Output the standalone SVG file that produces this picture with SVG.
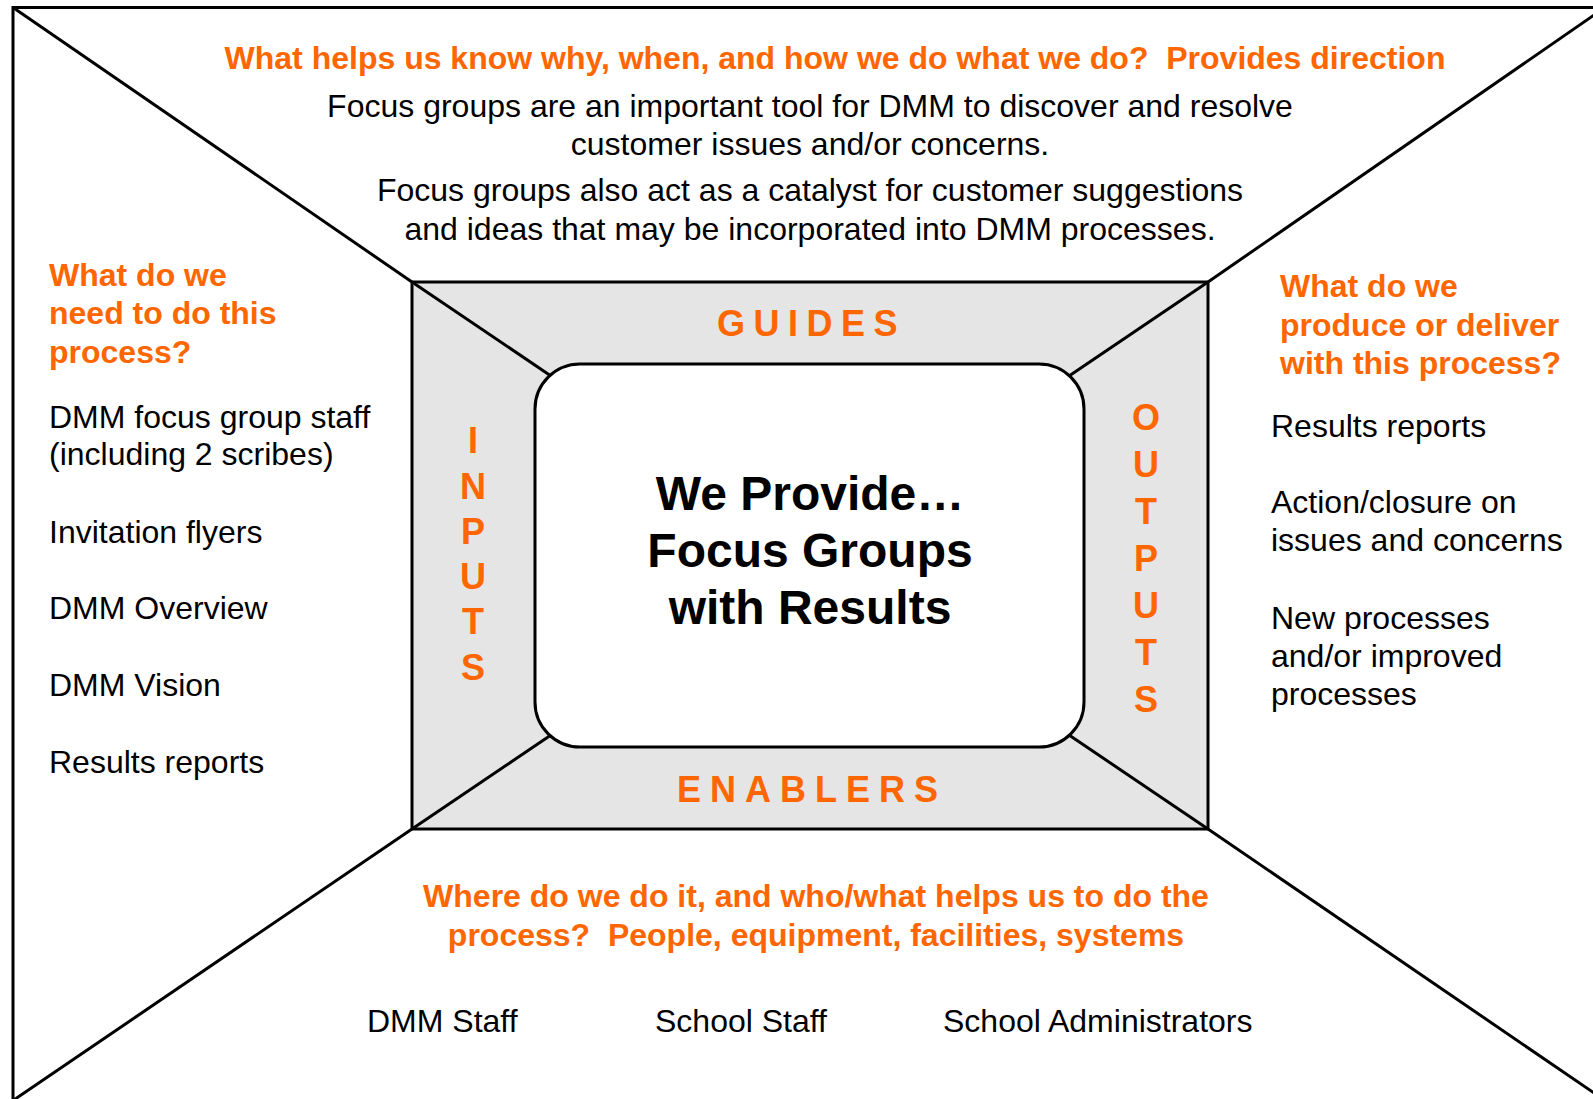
<svg xmlns="http://www.w3.org/2000/svg" width="1593" height="1099" viewBox="0 0 1593 1099">
<style>
.ln{stroke:#000;stroke-width:3;fill:none}
.t{font-family:"Liberation Sans",Arial,sans-serif;font-size:32px;fill:#000}
.o{font-family:"Liberation Sans",Arial,sans-serif;font-size:32px;font-weight:bold;fill:#FF6600}
.lab{font-family:"Liberation Sans",Arial,sans-serif;font-size:36px;font-weight:bold;fill:#FF6600}
.c{font-family:"Liberation Sans",Arial,sans-serif;font-size:48px;font-weight:bold;fill:#000}
.m{text-anchor:middle}
</style>
<rect width="1593" height="1099" fill="#fff"/>
<g id="frame">
<rect x="13" y="7.5" width="1592" height="1093" class="ln"/>
</g>
<g id="connectors">
<line x1="13" y1="7.5" x2="412" y2="282" class="ln"/>
<line x1="1605" y1="7.5" x2="1208" y2="282" class="ln"/>
<line x1="13" y1="1100.5" x2="412" y2="829" class="ln"/>
<line x1="1605" y1="1100.5" x2="1208" y2="829" class="ln"/>
</g>
<g id="core">
<rect x="412" y="282" width="796" height="547" fill="#E5E5E5" stroke="#000" stroke-width="3"/>
<g class="ln">
<line x1="412" y1="282" x2="551" y2="376"/>
<line x1="1208" y1="282" x2="1069" y2="376"/>
<line x1="412" y1="829" x2="551" y2="735"/>
<line x1="1208" y1="829" x2="1069" y2="735"/>
</g>
<rect x="535" y="364" width="549" height="383" rx="45" ry="45" fill="#fff" stroke="#000" stroke-width="3"/>
</g>
<g id="center">
<text class="c m" x="810" y="510">We Provide…</text>
<text class="c m" x="810" y="567">Focus Groups</text>
<text class="c m" x="810" y="624">with Results</text>
</g>
<g id="guides-label">
<text class="lab" x="717" y="336" letter-spacing="8.5">GUIDES</text>
</g>
<g id="enablers-label">
<text class="lab" x="677" y="802" letter-spacing="9">ENABLERS</text>
</g>
<g id="inputs-label">
<text class="lab m" x="473" y="453">I</text>
<text class="lab m" x="473" y="498.5">N</text>
<text class="lab m" x="473" y="544">P</text>
<text class="lab m" x="473" y="589">U</text>
<text class="lab m" x="473" y="634">T</text>
<text class="lab m" x="473" y="680">S</text>
</g>
<g id="outputs-label">
<text class="lab m" x="1146" y="430">O</text>
<text class="lab m" x="1146" y="477">U</text>
<text class="lab m" x="1146" y="524">T</text>
<text class="lab m" x="1146" y="571">P</text>
<text class="lab m" x="1146" y="618">U</text>
<text class="lab m" x="1146" y="665">T</text>
<text class="lab m" x="1146" y="712">S</text>
</g>
<g id="guides">
<text class="o m" x="835" y="68.5" xml:space="preserve">What helps us know why, when, and how we do what we do?  Provides direction</text>
<text class="t m" x="810" y="117">Focus groups are an important tool for DMM to discover and resolve</text>
<text class="t m" x="810" y="154.5">customer issues and/or concerns.</text>
<text class="t m" x="810" y="201">Focus groups also act as a catalyst for customer suggestions</text>
<text class="t m" x="810" y="239.5">and ideas that may be incorporated into DMM processes.</text>
</g>
<g id="inputs">
<text class="o" x="49" y="285.5">What do we</text>
<text class="o" x="49" y="324">need to do this</text>
<text class="o" x="49" y="362.5">process?</text>
<text class="t" x="49" y="428">DMM focus group staff</text>
<text class="t" x="49" y="465">(including 2 scribes)</text>
<text class="t" x="49" y="542.5">Invitation flyers</text>
<text class="t" x="49" y="619">DMM Overview</text>
<text class="t" x="49" y="696">DMM Vision</text>
<text class="t" x="49" y="773">Results reports</text>
</g>
<g id="outputs">
<text class="o" x="1280" y="297">What do we</text>
<text class="o" x="1280" y="336">produce or deliver</text>
<text class="o" x="1280" y="374">with this process?</text>
<text class="t" x="1271" y="437">Results reports</text>
<text class="t" x="1271" y="513">Action/closure on</text>
<text class="t" x="1271" y="551">issues and concerns</text>
<text class="t" x="1271" y="629">New processes</text>
<text class="t" x="1271" y="667">and/or improved</text>
<text class="t" x="1271" y="705">processes</text>
</g>
<g id="enablers">
<text class="o m" x="816" y="907">Where do we do it, and who/what helps us to do the</text>
<text class="o m" x="816" y="946" xml:space="preserve">process?  People, equipment, facilities, systems</text>
<text class="t" x="367" y="1032">DMM Staff</text>
<text class="t" x="655" y="1032">School Staff</text>
<text class="t" x="943" y="1032">School Administrators</text>
</g>
</svg>
